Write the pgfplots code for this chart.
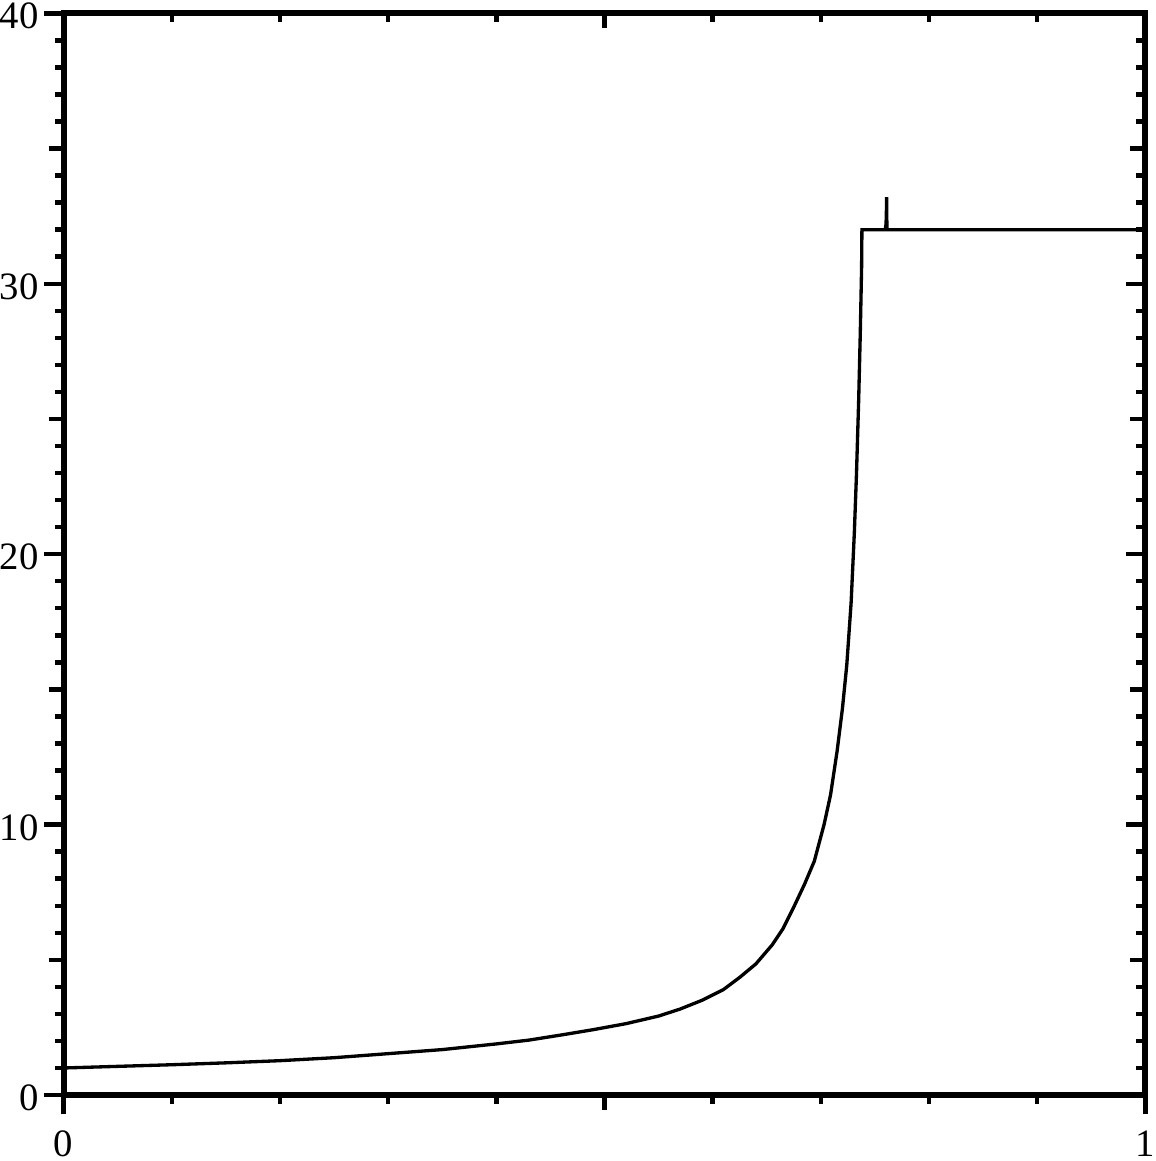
\documentclass[border=0pt]{standalone}
\usepackage{fontspec}
\setmainfont{Liberation Serif}
\usepackage{pgfplots}
\pgfplotsset{compat=1.18}
\begin{document}
\begin{tikzpicture}
\pgfplotsset{
  frame/.style={
    scale only axis, width=391pt, height=391pt,
    xmin=0, xmax=1, ymin=0, ymax=40,
    xtick={0,1}, ytick={0,10,20,30,40},
    minor x tick num=9, minor y tick num=9,
    extra x ticks={0.5}, extra y ticks={5,15,25,35},
    extra x tick labels={}, extra y tick labels={},
    major tick length=7pt, minor tick length=3.2pt,
    extra x tick style={major tick length=5.4pt},
    extra y tick style={major tick length=5.4pt},
    axis line style={line width=2.2pt, line cap=rect},
    every tick/.style={line width=1.6pt, black},
    ticklabel style={font=\fontsize{14}{16}\selectfont, inner sep=0pt},
    /pgf/number format/assume math mode=true,
  },
}
\begin{axis}[frame,
  xtick pos=bottom, ytick pos=left, tick align=outside,
  xticklabel style={yshift=-5.6pt},
  yticklabel style={xshift=-1.8pt, yshift=-1pt},
]
\addplot[black, line width=1.2pt, line join=miter, mark=none] coordinates {
  (0.000,1.00) (0.050,1.06) (0.100,1.12) (0.150,1.19) (0.200,1.27)
  (0.250,1.38) (0.300,1.53) (0.350,1.68) (0.400,1.89) (0.430,2.03)
  (0.460,2.22) (0.490,2.42) (0.520,2.64) (0.550,2.92) (0.570,3.18)
  (0.590,3.50) (0.610,3.90) (0.625,4.35) (0.640,4.85) (0.655,5.55)
  (0.665,6.15) (0.675,6.95) (0.685,7.80) (0.694,8.65) (0.703,10.0)
  (0.709,11.1) (0.715,12.7) (0.720,14.3) (0.724,15.9) (0.728,18.2)
  (0.731,20.8) (0.733,23.0) (0.735,25.7) (0.7365,28.2) (0.7377,30.6)
  (0.7380,32.0)
  (0.7595,32.0) (0.7603,32.2) (0.7606,32.6) (0.7608,33.2) (0.7610,32.4)
  (0.7612,32.0) (1.000,32.0)
};
\end{axis}
\begin{axis}[frame,
  xtick pos=top, ytick pos=right, tick align=inside,
  xticklabels={}, yticklabels={},
]
\end{axis}
% a little room above the "40" and below the x labels
\path ([yshift=1.1pt]current bounding box.north) ([yshift=-1.6pt]current bounding box.south);
\end{tikzpicture}
\end{document}
